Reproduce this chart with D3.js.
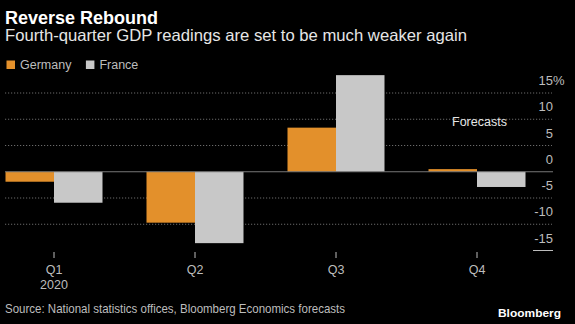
<!DOCTYPE html>
<html>
<head>
<meta charset="utf-8">
<script src="https://cdn.jsdelivr.net/npm/d3@7"></script>
<style>
  html, body { margin: 0; padding: 0; background: #000; }
  svg { display: block; font-family: "Liberation Sans", Arial, sans-serif; }
</style>
</head>
<body>
<svg id="chart" width="575" height="324"></svg>
<script>
// Quarterly GDP change, %, 2020 (Q4 = forecast)
const quarters = ["Q1", "Q2", "Q3", "Q4"];
const seriesNames = ["Germany", "France"];
const germany = [-1.9, -9.7, 8.4, 0.5];
const france = [-5.9, -13.6, 18.4, -2.9];
const yTicks = [15, 10, 5, 0, -5, -10, -15];
const colors = { Germany: "#e3902b", France: "#c8c8c8" };

const svg = d3.select("#chart");
const W = 575, H = 324;

svg.append("rect").attr("width", W).attr("height", H).attr("fill", "#000");

// Fit a text element to a given width
function fit(sel, w) {
  sel.attr("textLength", w).attr("lengthAdjust", "spacingAndGlyphs");
  return sel;
}

// Header
fit(svg.append("text").attr("x", 5).attr("y", 23.5)
  .attr("fill", "#fff").attr("font-weight", "bold").attr("font-size", 17.5)
  .text("Reverse Rebound"), 153);
fit(svg.append("text").attr("x", 5).attr("y", 41)
  .attr("fill", "#e6e6e6").attr("font-size", 16.5)
  .text("Fourth-quarter GDP readings are set to be much weaker again"), 462);

// Legend
const legend = svg.append("g");
let lx = 6.5;
seriesNames.forEach(name => {
  legend.append("rect").attr("x", lx).attr("y", 60.5).attr("width", 8.5).attr("height", 8.5)
    .attr("fill", colors[name]);
  const t = legend.append("text").attr("x", lx + 13.5).attr("y", 69)
    .attr("fill", "#bdbdbd").attr("font-size", 12.5).text(name);
  lx += 13.5 + t.node().getComputedTextLength() + 14.5;
});

// Scales
const y = d3.scaleLinear().domain([-15, 15]).range([250.5, 93]);
const x = d3.scalePoint().domain(quarters).range([54, 477]);
const xs = d3.scaleBand().domain(seriesNames).range([-48.5, 48.5]).padding(0);

const gridLeft = 5, gridRight = 552;

// Dotted gridlines
svg.append("g").selectAll("line")
  .data(yTicks.filter(v => v !== 0 && v !== -15))
  .join("line")
  .attr("x1", gridLeft).attr("x2", gridRight)
  .attr("y1", d => y(d)).attr("y2", d => y(d))
  .attr("stroke", "#6a6a6a").attr("stroke-width", 1)
  .attr("stroke-dasharray", "1.2,1.8");

// Bottom tick stub on the -15 line
svg.append("line")
  .attr("x1", 533).attr("x2", 553)
  .attr("y1", y(-15)).attr("y2", y(-15))
  .attr("stroke", "#bdbdbd").attr("stroke-width", 1);

// Right-hand value axis labels
const yLab = svg.append("g");
yTicks.forEach(v => {
  yLab.append("text")
    .attr("x", 553).attr("y", y(v) - 8)
    .attr("text-anchor", "end")
    .attr("fill", "#bdbdbd").attr("font-size", 13)
    .text(v);
  if (v === 15) {
    yLab.append("text").attr("x", 553).attr("y", y(v) - 8)
      .attr("fill", "#bdbdbd").attr("font-size", 13).text("%");
  }
});

// Bars
const rows = quarters.map((q, i) => ({ q, Germany: germany[i], France: france[i] }));
const groups = svg.append("g").selectAll("g")
  .data(rows).join("g")
  .attr("transform", d => `translate(${x(d.q)},0)`);
groups.selectAll("rect")
  .data(d => seriesNames.map(s => ({ s, v: d[s] })))
  .join("rect")
  .attr("x", d => xs(d.s))
  .attr("width", xs.bandwidth())
  .attr("y", d => y(Math.max(0, d.v)))
  .attr("height", d => Math.abs(y(d.v) - y(0)))
  .attr("fill", d => colors[d.s]);

// Zero line
svg.append("line")
  .attr("x1", gridLeft).attr("x2", 553)
  .attr("y1", y(0)).attr("y2", y(0))
  .attr("stroke", "#777").attr("stroke-width", 1);

// Category axis
const xTicks = svg.append("g");
quarters.forEach(q => {
  xTicks.append("line")
    .attr("x1", x(q)).attr("x2", x(q))
    .attr("y1", 252).attr("y2", 258)
    .attr("stroke", "#bdbdbd").attr("stroke-width", 1);
  xTicks.append("text").attr("x", x(q)).attr("y", 273.5)
    .attr("text-anchor", "middle").attr("fill", "#bdbdbd").attr("font-size", 12.5)
    .text(q);
});
xTicks.append("text").attr("x", x("Q1")).attr("y", 288.5)
  .attr("text-anchor", "middle").attr("fill", "#bdbdbd").attr("font-size", 12.5)
  .text("2020");

// Forecast annotation
svg.append("text").attr("x", 452).attr("y", 125.5)
  .attr("fill", "#e6e6e6").attr("font-size", 12.5).text("Forecasts");

// Footer
fit(svg.append("text").attr("x", 5).attr("y", 313)
  .attr("fill", "#bdbdbd").attr("font-size", 13)
  .text("Source: National statistics offices, Bloomberg Economics forecasts"), 340);
fit(svg.append("text").attr("x", 498).attr("y", 316.5)
  .attr("fill", "#fff")
  .attr("font-weight", "bold").attr("font-size", 11.5)
  .text("Bloomberg"), 63);
</script>
</body>
</html>
